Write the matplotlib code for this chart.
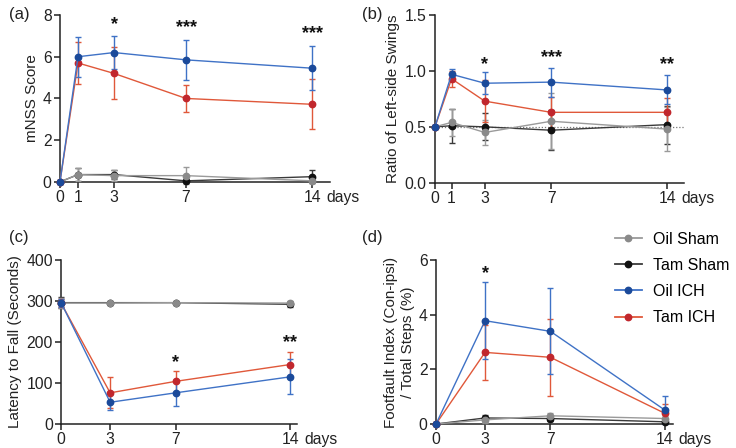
import matplotlib
matplotlib.use("Agg")
import matplotlib.pyplot as plt
from matplotlib.lines import Line2D

plt.rcParams['font.family'] = ['Liberation Sans', 'DejaVu Sans']

groups = ['Oil Sham', 'Tam Sham', 'Oil ICH', 'Tam ICH']
draw_order = ['Tam Sham', 'Oil Sham', 'Tam ICH', 'Oil ICH']
line_colors = {'Oil Sham': '#9a9a9a', 'Tam Sham': '#3a3a3a', 'Oil ICH': '#3f72c6', 'Tam ICH': '#e0583a'}
marker_colors = {'Oil Sham': '#8a8a8a', 'Tam Sham': '#111111', 'Oil ICH': '#1b4a9a', 'Tam ICH': '#c1272d'}

# (a) mNSS
days_a = [0, 1, 3, 7, 14]
mnss_mean = {
    'Oil Sham': [0, 0.35, 0.30, 0.30, 0.05],
    'Tam Sham': [0, 0.35, 0.35, 0.05, 0.25],
    'Oil ICH': [0, 6.0, 6.2, 5.85, 5.45],
    'Tam ICH': [0, 5.7, 5.2, 4.0, 3.72],
}
mnss_err = {
    'Oil Sham': [0, 0.3, 0.25, 0.4, 0.1],
    'Tam Sham': [0, 0.3, 0.2, 0.05, 0.3],
    'Oil ICH': [0, 0.95, 0.8, 0.95, 1.05],
    'Tam ICH': [0, 1.0, 1.25, 0.65, 1.2],
}
mnss_sig = ['', '', '*', '***', '***']
mnss_sig_y = [0, 0, 7.55, 7.4, 7.1]

# (b) Left-side swings ratio
days_b = [0, 1, 3, 7, 14]
swing_mean = {
    'Oil Sham': [0.5, 0.54, 0.45, 0.55, 0.48],
    'Tam Sham': [0.5, 0.51, 0.50, 0.47, 0.52],
    'Oil ICH': [0.5, 0.97, 0.89, 0.90, 0.83],
    'Tam ICH': [0.5, 0.93, 0.73, 0.63, 0.63],
}
swing_err = {
    'Oil Sham': [0, 0.12, 0.11, 0.25, 0.2],
    'Tam Sham': [0, 0.15, 0.12, 0.18, 0.17],
    'Oil ICH': [0, 0.05, 0.10, 0.13, 0.13],
    'Tam ICH': [0, 0.07, 0.19, 0.14, 0.13],
}
swing_sig = ['', '', '*', '***', '**']
swing_sig_y = [0, 0, 1.06, 1.12, 1.06]

# (c) Latency to fall
days_c = [0, 3, 7, 14]
lat_mean = {
    'Oil Sham': [295, 295, 296, 295],
    'Tam Sham': [296, 296, 296, 292],
    'Oil ICH': [296, 53, 76, 115],
    'Tam ICH': [295, 76, 104, 145],
}
lat_err = {
    'Oil Sham': [12, 0, 0, 5],
    'Tam Sham': [14, 0, 0, 6],
    'Oil ICH': [10, 20, 31, 43],
    'Tam ICH': [10, 38, 26, 31],
}
lat_sig = ['', '', '*', '**']
lat_sig_y = [0, 0, 150, 198]

# (d) Footfault
days_d = [0, 3, 7, 14]
foot_mean = {
    'Oil Sham': [0, 0.15, 0.30, 0.20],
    'Tam Sham': [0, 0.22, 0.20, 0.08],
    'Oil ICH': [0, 3.78, 3.39, 0.51],
    'Tam ICH': [0, 2.62, 2.44, 0.39],
}
foot_err = {
    'Oil Sham': [0, 0.1, 0.12, 0.1],
    'Tam Sham': [0, 0.12, 0.08, 0.05],
    'Oil ICH': [0, 1.4, 1.57, 0.5],
    'Tam ICH': [0, 1.0, 1.4, 0.34],
}
foot_sig = ['', '*', '', '']
foot_sig_y = [0, 5.5, 0, 0]

fig = plt.figure(figsize=(7.36, 4.48), dpi=100)

FS = 11.3

axes_specs = [
    ([0.0815, 0.594, 0.367, 0.3725], (0, 15), (0, 8), [0, 2, 4, 6, 8], 'mNSS Score', '(a)',
     days_a, [0, 1, 3, 7, 14], mnss_mean, mnss_err, mnss_sig, mnss_sig_y, ['0', '2', '4', '6', '8']),
    ([0.591, 0.592, 0.338, 0.3745], (0, 15), (0, 1.5), [0, 0.5, 1.0, 1.5], 'Ratio of Left-side Swings', '(b)',
     days_b, [0, 1, 3, 7, 14], swing_mean, swing_err, swing_sig, swing_sig_y, ['0.0', '0.5', '1.0', '1.5']),
    ([0.083, 0.0536, 0.320, 0.366], (0, 14.4), (0, 400), [0, 100, 200, 300, 400], 'Latency to Fall (Seconds)', '(c)',
     days_c, [0, 3, 7, 14], lat_mean, lat_err, lat_sig, lat_sig_y, ['0', '100', '200', '300', '400']),
    ([0.5924, 0.0536, 0.322, 0.366], (0, 14.5), (0, 6), [0, 2, 4, 6], 'Footfault Index (Con-ipsi)\n/ Total Steps (%)', '(d)',
     days_d, [0, 3, 7, 14], foot_mean, foot_err, foot_sig, foot_sig_y, ['0', '2', '4', '6']),
]

for (rect, xlim, ylim, yticks, ylabel, plabel, days, xticks, means, errs, sig, sig_y, ytl) in axes_specs:
    ax = fig.add_axes(rect)
    for g in draw_order:
        ax.errorbar(days, means[g], yerr=errs[g], color=line_colors[g], lw=1.0,
                    elinewidth=1.0, capsize=2.5, capthick=1.0,
                    marker='o', markersize=4.6, markerfacecolor=marker_colors[g],
                    markeredgecolor=marker_colors[g], clip_on=False, zorder=3)
    if plabel == '(b)':
        ax.axhline(0.5, color='#777777', lw=0.9, ls=(0, (1, 1.5)), zorder=1)
    for d, s, sy in zip(days, sig, sig_y):
        if s:
            ax.text(d, sy, s, ha='center', va='center', fontsize=13, fontweight='bold', color='#111111')
    ax.set_xlim(*xlim)
    ax.set_ylim(*ylim)
    ax.set_yticks(yticks)
    ax.set_yticklabels(ytl)
    ax.set_xticks(xticks)
    ax.set_xticklabels([str(x) for x in xticks])
    for sp in ['top', 'right']:
        ax.spines[sp].set_visible(False)
    for sp in ['left', 'bottom']:
        ax.spines[sp].set_linewidth(1.1)
        ax.spines[sp].set_color('#222222')
    ax.tick_params(direction='out', length=4, width=1.1, labelsize=FS, colors='#222222', pad=2)
    ax.set_ylabel(ylabel, fontsize=11, color='#222222', labelpad=3)
    ax.annotate('days', xy=(14, 0), xycoords=('data', 'axes fraction'),
                xytext=(10, -6), textcoords='offset points',
                ha='left', va='top', fontsize=FS, color='#222222', annotation_clip=False)

fig.text(0.012, 0.985, '(a)', ha='left', va='top', fontsize=12, color='#222222')
fig.text(0.492, 0.985, '(b)', ha='left', va='top', fontsize=12, color='#222222')
fig.text(0.012, 0.487, '(c)', ha='left', va='top', fontsize=12, color='#222222')
fig.text(0.492, 0.487, '(d)', ha='left', va='top', fontsize=12, color='#222222')

handles = [Line2D([0], [0], color=line_colors[g], lw=1.3, marker='o', markersize=4.6,
                  markerfacecolor=marker_colors[g], markeredgecolor=marker_colors[g]) for g in groups]
fig.legend(handles, groups, loc='upper left', bbox_to_anchor=(0.835, 0.483), frameon=False,
           fontsize=11.5, handlelength=1.7, labelspacing=0.7, handletextpad=0.7, borderpad=0.0,
           borderaxespad=0.0)

fig.savefig('out.png', dpi=100)
